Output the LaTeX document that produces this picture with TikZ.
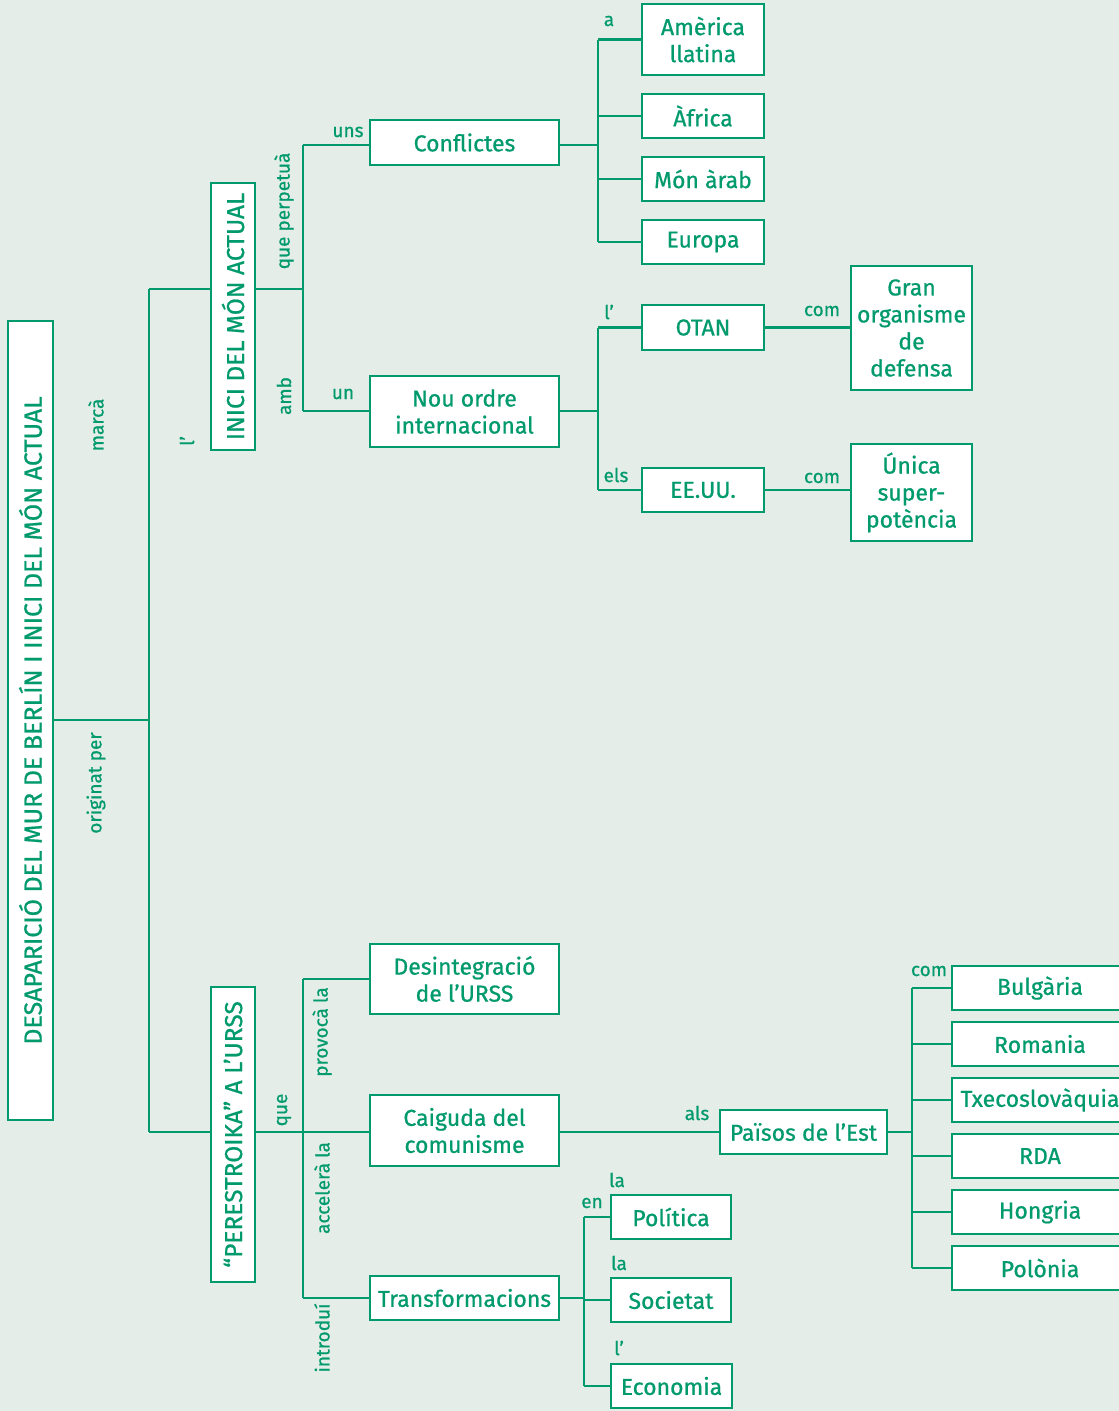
\documentclass[tikz,border=0pt]{standalone}
\usepackage{fontspec}
\setmainfont{Fira Sans}[BoldFont={Fira Sans}, BoldFeatures={FakeBold=0.7}]
\definecolor{grn}{RGB}{0,154,108}
\definecolor{bgc}{RGB}{228,237,231}
\begin{document}
\begin{tikzpicture}[x=1pt,y=-1pt,
  bx/.style={draw=grn, line width=2.8pt, fill=white, text=grn, font=\fontsize{23}{27}\selectfont\bfseries, align=center, inner sep=0pt},
  vbx/.style={bx, rotate=90, font=\fontsize{24.5}{27}\selectfont\bfseries},
  lb/.style={text=grn, font=\fontsize{19}{21}\selectfont\bfseries, inner sep=0pt},
  vlb/.style={lb, rotate=90},
  ln/.style={draw=grn, line width=2.8pt}]
\fill[bgc] (0,0) rectangle (1119,1411);
\useasboundingbox (0,0) rectangle (1119,1411);
% boxes
\node[vbx, minimum width=799, minimum height=45, font=\fontsize{25}{28}\selectfont\bfseries] (title) at (30.5,720.5) {DESAPARICIÓ DEL MUR DE BERLÍN I INICI DEL MÓN ACTUAL};
\node[vbx, minimum width=267, minimum height=44] (inici) at (233,316.5) {INICI DEL MÓN ACTUAL};
\node[vbx, minimum width=295, minimum height=44] (pere) at (233,1134.5) {“PERESTROIKA” A L’URSS};
\node[bx, minimum width=189, minimum height=45] (conf) at (464.5,142.5) {Conflictes};
\node[bx, minimum width=189, minimum height=71] (nou) at (464.5,411.5) {Nou ordre\\internacional};
\node[bx, minimum width=122, minimum height=71] (amer) at (703,39.5) {Amèrica\\llatina};
\node[bx, minimum width=122, minimum height=44] (afr) at (703,116) {Àfrica};
\node[bx, minimum width=122, minimum height=44] (mon) at (703,179) {Món àrab};
\node[bx, minimum width=122, minimum height=44] (eur) at (703,242) {Europa};
\node[bx, minimum width=122, minimum height=45] (otan) at (703,327.5) {OTAN};
\node[bx, minimum width=122, minimum height=44] (eeuu) at (703,490) {EE.UU.};
\node[bx, minimum width=121, minimum height=124] (gran) at (911.5,328) {Gran\\organisme\\de\\defensa};
\node[bx, minimum width=121, minimum height=97] (unica) at (911.5,492.5) {Única\\super-\\potència};
\node[bx, minimum width=189, minimum height=70] (des) at (464.5,979) {Desintegració\\de l’URSS};
\node[bx, minimum width=189, minimum height=71] (caig) at (464.5,1130.5) {Caiguda del\\comunisme};
\node[bx, minimum width=189, minimum height=44] (trans) at (464.5,1298) {Transformacions};
\node[bx, minimum width=167, minimum height=44] (paisos) at (803.5,1132) {Països de l’Est};
\node[bx, minimum width=176, minimum height=44] (bulg) at (1040,988) {Bulgària};
\node[bx, minimum width=176, minimum height=44] (rom) at (1040,1044) {Romania};
\node[bx, minimum width=176, minimum height=44] (txe) at (1040,1100) {Txecoslovàquia};
\node[bx, minimum width=176, minimum height=44] (rda) at (1040,1156) {RDA};
\node[bx, minimum width=176, minimum height=44] (hon) at (1040,1212) {Hongria};
\node[bx, minimum width=176, minimum height=44] (pol) at (1040,1268) {Polònia};
\node[bx, minimum width=120, minimum height=44] (polit) at (671,1217) {Política};
\node[bx, minimum width=120, minimum height=44] (soc) at (671,1300) {Societat};
\node[bx, minimum width=121, minimum height=44] (eco) at (671.5,1386) {Economia};
% junctions
\coordinate (t0) at (149,720);
\coordinate (jt) at (149,289);
\coordinate (jb) at (149,1132);
\coordinate (ja) at (303,289);
\coordinate (jau) at (303,145);
\coordinate (jad) at (303,411);
\coordinate (jc) at (598,145);
\coordinate (jn) at (598,411);
\coordinate (jq) at (303,1132);
\coordinate (je) at (912,1132);
\coordinate (jtr) at (584,1298);
% connectors
\draw[ln] (title.south |- t0) -- (t0);
\draw[ln] (jt) -- (jb);
\draw[ln] (jt) -- (jt -| inici.north);
\draw[ln] (ja -| inici.south) -- (ja);
\draw[ln] (jau) -- (jad);
\draw[ln] (jau) -- (jau -| conf.west);
\draw[ln] (jad) -- (jad -| nou.west);
\draw[ln] (jc -| conf.east) -- (jc);
\draw[ln] (jc |- amer.west) -- (jc |- eur.west);
\draw[ln] (jc |- amer.west) -- (amer.west);
\draw[ln] (jc |- afr.west) -- (afr.west);
\draw[ln] (jc |- mon.west) -- (mon.west);
\draw[ln] (jc |- eur.west) -- (eur.west);
\draw[ln] (jn -| nou.east) -- (jn);
\draw[ln] (jn |- otan.west) -- (jn |- eeuu.west);
\draw[ln] (jn |- otan.west) -- (otan.west);
\draw[ln] (jn |- eeuu.west) -- (eeuu.west);
\draw[ln] (otan.east) -- (gran.west |- otan.east);
\draw[ln] (eeuu.east) -- (unica.west |- eeuu.east);
\draw[ln] (jb) -- (jb -| pere.north);
\draw[ln] (jq -| pere.south) -- (jq);
\draw[ln] (jq |- des.west) -- (jq |- trans.west);
\draw[ln] (jq |- des.west) -- (des.west);
\draw[ln] (jq) -- (jq -| caig.west);
\draw[ln] (jq |- trans.west) -- (trans.west);
\draw[ln] (caig.east |- paisos.west) -- (paisos.west);
\draw[ln] (paisos.east) -- (je);
\draw[ln] (je |- bulg.west) -- (je |- pol.west);
\foreach \n in {bulg,rom,txe,rda,hon,pol} \draw[ln] (je |- \n.west) -- (\n.west);
\draw[ln] (trans.east) -- (jtr);
\draw[ln] (jtr |- polit.west) -- (jtr |- eco.west);
\foreach \n in {polit,soc,eco} \draw[ln] (jtr |- \n.west) -- (\n.west);
% labels
\node[vlb] (lmarca) at (96,425) {marcà};
\node[vlb] (lorig) at (96,783) {originat per};
\node[vlb] (ll1) at (187,441) {l’};
\node[vlb] (lqp) at (284,211) {que perpetuà};
\node[vlb] (lamb) at (284,396) {amb};
\node[lb] (luns) at (348,132) {uns};
\node[lb] (lun) at (343,394) {un};
\node[lb] (la) at (609,21) {a};
\node[lb] (ll2) at (609,312) {l’};
\node[lb] (lels) at (616,475) {els};
\node[lb] (lcom1) at (822,311) {com};
\node[lb] (lcom2) at (822,478) {com};
\node[vlb] (lque) at (284,1110) {que};
\node[vlb] (lprov) at (322,1032) {provocà la};
\node[vlb] (lacc) at (322,1188) {accelerà la};
\node[vlb] (lintr) at (322,1338) {introduí};
\node[lb] (lals) at (697,1113) {als};
\node[lb] (lcom3) at (929,971) {com};
\node[lb] (len) at (592,1203) {en};
\node[lb] (lla1) at (617,1180) {la};
\node[lb] (lla2) at (619,1263) {la};
\node[lb] (ll3) at (619,1348) {l’};
\end{tikzpicture}
\end{document}
